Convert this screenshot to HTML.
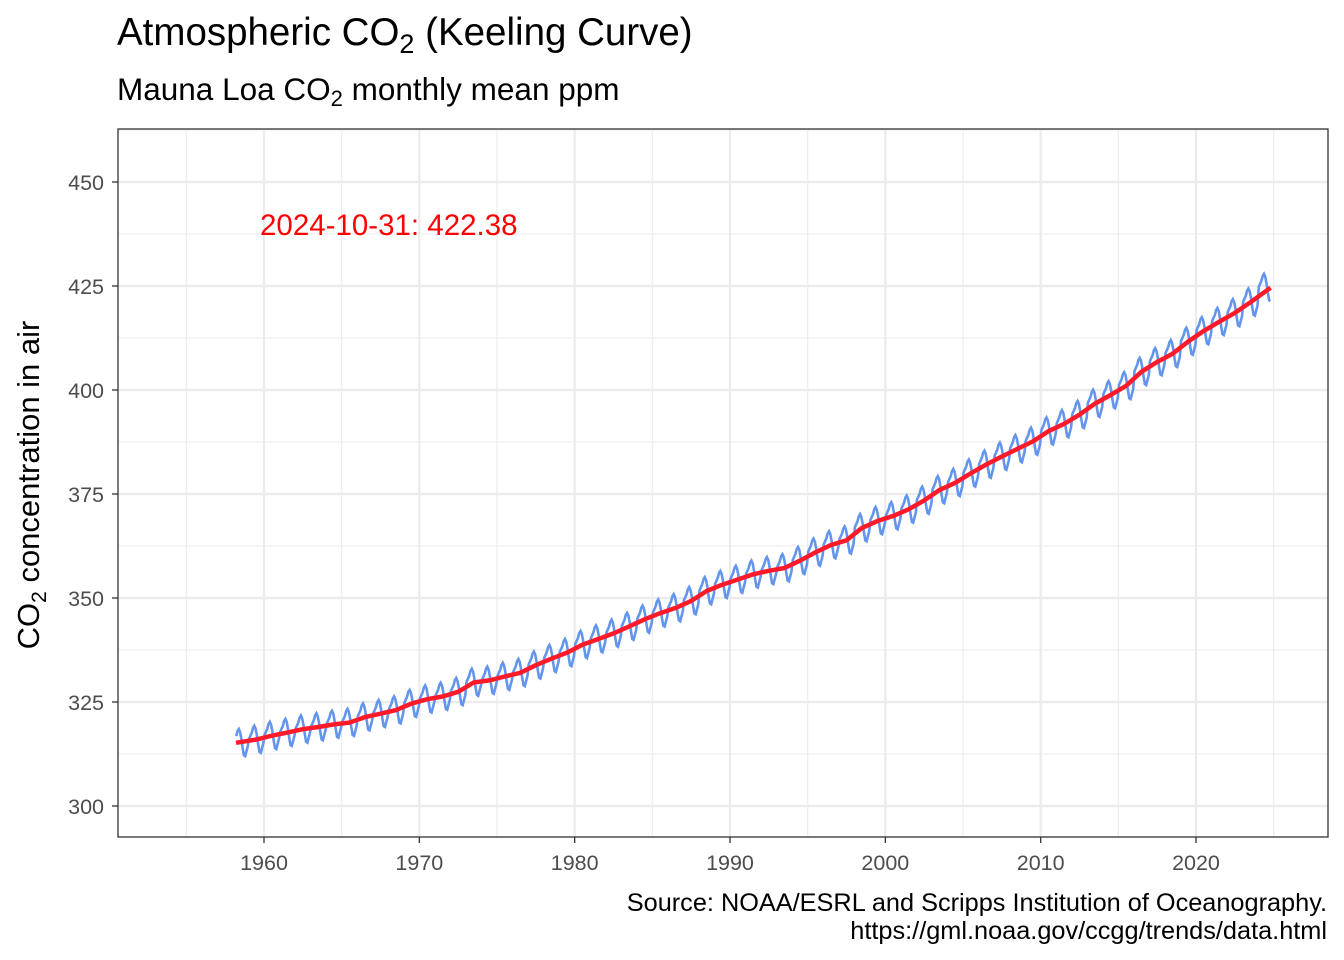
<!DOCTYPE html>
<html><head><meta charset="utf-8"><style>
html,body{margin:0;padding:0;background:#fff;}
svg{display:block;font-family:"Liberation Sans",Arial,sans-serif;}
</style></head><body>
<svg id="chart" width="1344" height="960" viewBox="0 0 1344 960" xmlns="http://www.w3.org/2000/svg">
<text x="117" y="45" font-size="38.5" fill="#000">Atmospheric CO<tspan font-size="27" dy="8">2</tspan><tspan dy="-8"> (Keeling Curve)</tspan></text>
<text x="117" y="100" font-size="31.5" fill="#000">Mauna Loa CO<tspan font-size="22" dy="6">2</tspan><tspan dy="-6"> monthly mean ppm</tspan></text>
<rect x="118" y="129" width="1210" height="708" fill="#fff"/>
<g id="grid"></g>
<g id="series"></g>
<text x="260" y="235" font-size="29.5" fill="#ff0000">2024-10-31: 422.38</text>
<rect x="118" y="129" width="1210" height="708" fill="none" stroke="#333" stroke-width="1.3"/>
<g id="axes"></g>
<text transform="translate(39,485) rotate(-90)" text-anchor="middle" font-size="31" fill="#000">CO<tspan font-size="21" dy="7">2</tspan><tspan dy="-7"> concentration in air</tspan></text>
<text x="1327" y="911" text-anchor="end" font-size="25.3" fill="#000">Source: NOAA/ESRL and Scripps Institution of Oceanography.</text>
<text x="1327" y="939" text-anchor="end" font-size="25.3" fill="#000">https://gml.noaa.gov/ccgg/trends/data.html</text>
</svg>
<script>
const years=[1958,1959,1960,1961,1962,1963,1964,1965,1966,1967,1968,1969,1970,1971,1972,1973,1974,1975,1976,1977,1978,1979,1980,1981,1982,1983,1984,1985,1986,1987,1988,1989,1990,1991,1992,1993,1994,1995,1996,1997,1998,1999,2000,2001,2002,2003,2004,2005,2006,2007,2008,2009,2010,2011,2012,2013,2014,2015,2016,2017,2018,2019,2020,2021,2022,2023,2024];
const annualMean=[315.2,315.98,316.91,317.64,318.45,318.99,319.62,320.04,321.37,322.18,323.05,324.62,325.68,326.32,327.46,329.68,330.19,331.12,332.03,333.84,335.41,336.84,338.76,340.12,341.48,343.15,344.87,346.35,347.61,349.31,351.69,353.2,354.45,355.7,356.54,357.21,358.96,360.97,362.74,363.88,366.84,368.54,369.71,371.32,373.45,375.98,377.7,379.98,382.09,384.02,385.83,387.64,390.1,391.85,394.06,396.74,398.81,401.01,404.41,406.76,408.72,411.65,414.21,416.41,418.53,421.08,424.6];
const seasonal=[0.2,0.9,1.6,2.8,3.3,2.6,1.0,-1.2,-3.0,-3.2,-2.0,-0.8];
const yTicks=[300,325,350,375,400,425,450];
const xTicks=[1960,1970,1980,1990,2000,2010,2020];
const NS='http://www.w3.org/2000/svg';
const X=t=>264+(t-1960)*15.5333;
const Y=v=>806-(v-300)*4.16;
function mk(tag,attrs,parent){const e=document.createElementNS(NS,tag);for(const k in attrs)e.setAttribute(k,attrs[k]);parent.appendChild(e);return e;}
const grid=document.getElementById('grid'),axes=document.getElementById('axes'),series=document.getElementById('series');
for(let v=287.5;v<=462.5;v+=12.5){const y=Y(v);if(y<129||y>837)continue;const major=yTicks.includes(v);
 const l=mk('line',{x1:118,x2:1328,y1:y,y2:y,stroke:'#ebebeb','stroke-width':major?2.2:1.1},grid);
 
 }
for(let t=1955;t<=2025;t+=5){const x=X(t);const major=xTicks.includes(t);
 const l=mk('line',{x1:x,x2:x,y1:129,y2:837,stroke:'#ebebeb','stroke-width':major?2.2:1.1},grid);
 
 }
yTicks.forEach(v=>{const y=Y(v);
 const tk=mk('line',{x1:112,x2:118,y1:y,y2:y,stroke:'#333','stroke-width':1.3},axes);
 
 
 const tx=mk('text',{x:104,y:y+8,'text-anchor':'end','font-size':21.5,fill:'#4d4d4d'},axes);tx.textContent=v;
 
 });
xTicks.forEach(t=>{const x=X(t);
 const tk=mk('line',{x1:x,x2:x,y1:837,y2:843,stroke:'#333','stroke-width':1.3},axes);
 
 
 const tx=mk('text',{x:x,y:870,'text-anchor':'middle','font-size':21.5,fill:'#4d4d4d'},axes);tx.textContent=t;
 
 });
let pts=[];
years.forEach((yr,i)=>{for(let m=0;m<12;m++){if(yr===1958&&m<2)continue;if(yr===2024&&m>9)continue;
 const t=yr+(m+0.5)/12;pts.push(X(t).toFixed(1)+','+Y(annualMean[i]+seasonal[m]).toFixed(1));}});
const monthly=mk('polyline',{points:pts.join(' '),fill:'none',stroke:'#6495ed','stroke-width':2.6},series);


let tp=[];
years.forEach((yr,i)=>{let t=yr+0.5;if(yr===1958)t=1958.2;if(yr===2024)t=2024.8;tp.push(X(t).toFixed(1)+','+Y(annualMean[i]).toFixed(1));});
const trend=mk('polyline',{points:tp.join(' '),fill:'none',stroke:'#ff1a2a','stroke-width':4.5,'stroke-linejoin':'round'},series);


</script>
</body></html>
